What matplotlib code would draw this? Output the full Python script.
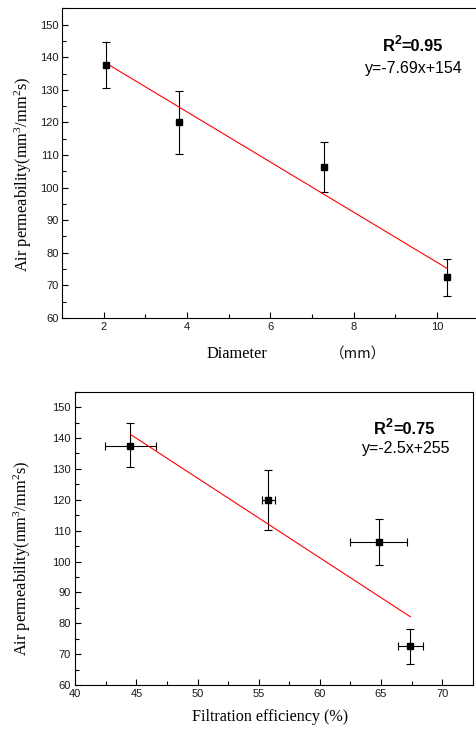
import matplotlib
matplotlib.use("Agg")
import numpy as np
import matplotlib.pyplot as plt
from matplotlib.ticker import MultipleLocator

plt.rcParams["mathtext.fontset"] = "custom"
plt.rcParams["mathtext.rm"] = "Liberation Serif"
plt.rcParams["mathtext.it"] = "Liberation Serif:italic"

# data
permeability = [137.5, 120.0, 106.3, 72.5]
perm_err_lo = [7.0, 9.8, 7.5, 5.7]
perm_err_hi = [7.2, 9.6, 7.6, 5.6]

diameter = [2.05, 3.8, 7.3, 10.25]
fit1_slope, fit1_int = -7.69, 154.0

efficiency = [44.5, 55.8, 64.8, 67.4]
eff_err = [2.1, 0.5, 2.3, 1.0]
fit2_slope, fit2_int = -2.58, 256.0

ylabel = "Air permeability(mm$^3$/mm$^2$s)"
W, H = 476, 729

fig = plt.figure(figsize=(W / 100, H / 100), dpi=100)

def px_axes(l, t, r, b):
    return fig.add_axes([l / W, 1 - b / H, (r - l) / W, (b - t) / H])

def style(ax, ypad):
    for s in ax.spines.values():
        s.set_linewidth(0.8)
    ax.tick_params(which="both", direction="in", top=False, right=False, width=0.8)
    ax.tick_params(which="major", length=4.3)
    ax.tick_params(which="minor", length=2.8)
    ax.tick_params(axis="y", pad=ypad)
    ax.tick_params(axis="x", pad=3.2)
    for lab in ax.get_xticklabels() + ax.get_yticklabels():
        lab.set_family("Liberation Sans")
        lab.set_fontsize(8)
        lab.set_color("#1a1a1a")

def r_squared(ax, x, y, value):
    kw = dict(family="Liberation Sans", fontweight="bold")
    t_r = ax.text(x, y, "R", transform=ax.transAxes, fontsize=11.8,
                  ha="left", va="baseline", **kw)
    t_2 = ax.annotate("2", xy=(1.0, 0.63), xycoords=t_r, fontsize=9,
                      ha="left", va="baseline", **kw)
    ax.annotate("=" + value, xy=(1.0, 0.0), xycoords=(t_2, t_r), fontsize=11.8,
                ha="left", va="bottom", **kw)

# ---- top panel: diameter
ax1 = px_axes(62, 8.3, 478.5, 318)
ax1.errorbar(diameter, permeability, yerr=[perm_err_lo, perm_err_hi], fmt="s",
             color="black", ms=4.8, elinewidth=0.8, capsize=2.6, capthick=0.8)
xf = np.array([min(diameter), max(diameter)])
ax1.plot(xf, fit1_slope * xf + fit1_int, color="red", lw=0.8)
ax1.set_xlim(1, 11)
ax1.set_ylim(60, 155)
ax1.xaxis.set_major_locator(MultipleLocator(2))
ax1.xaxis.set_minor_locator(MultipleLocator(1))
ax1.yaxis.set_major_locator(MultipleLocator(10))
ax1.yaxis.set_minor_locator(MultipleLocator(5))
style(ax1, 2.5)
ax1.set_ylabel(ylabel, family="Liberation Serif", fontsize=11.8)
ax1.yaxis.set_label_coords(-0.067, 0.465)
fig.text(236.5 / W, 1 - 357.7 / H, "Diameter", family="Liberation Serif",
         fontsize=11.8, ha="center", va="baseline")
fig.text(357.5 / W, 1 - 357.7 / H, "（mm）", family=["Noto Sans CJK SC", "DejaVu Sans"],
         fontsize=10.5, ha="center", va="baseline", color="#111111")
r_squared(ax1, 0.771, 0.863, "0.95")
ax1.text(0.844, 0.79, "y=-7.69x+154", transform=ax1.transAxes,
         family="Liberation Sans", fontsize=11.5, ha="center", va="baseline")

# ---- bottom panel: filtration efficiency
ax2 = px_axes(75.3, 391.7, 472.7, 685)
ax2.errorbar(efficiency, permeability, xerr=eff_err, yerr=[perm_err_lo, perm_err_hi], fmt="s",
             color="black", ms=4.8, elinewidth=0.8, capsize=2.6, capthick=0.8)
xf = np.array([min(efficiency), max(efficiency)])
ax2.plot(xf, fit2_slope * xf + fit2_int, color="red", lw=0.8)
ax2.set_xlim(40, 72.5)
ax2.set_ylim(60, 155)
ax2.xaxis.set_major_locator(MultipleLocator(5))
ax2.xaxis.set_minor_locator(MultipleLocator(2.5))
ax2.yaxis.set_major_locator(MultipleLocator(10))
ax2.yaxis.set_minor_locator(MultipleLocator(5))
style(ax2, 3.5)
ax2.set_ylabel(ylabel, family="Liberation Serif", fontsize=11.8)
ax2.yaxis.set_label_coords(-0.106, 0.433)
ax2.set_xlabel("Filtration efficiency (%)", family="Liberation Serif", fontsize=11.6)
ax2.xaxis.set_label_coords(0.49, -0.0835)
r_squared(ax2, 0.752, 0.856, "0.75")
ax2.text(0.833, 0.79, "y=-2.5x+255", transform=ax2.transAxes,
         family="Liberation Sans", fontsize=11.5, ha="center", va="baseline")

fig.savefig("out.png", dpi=100)
